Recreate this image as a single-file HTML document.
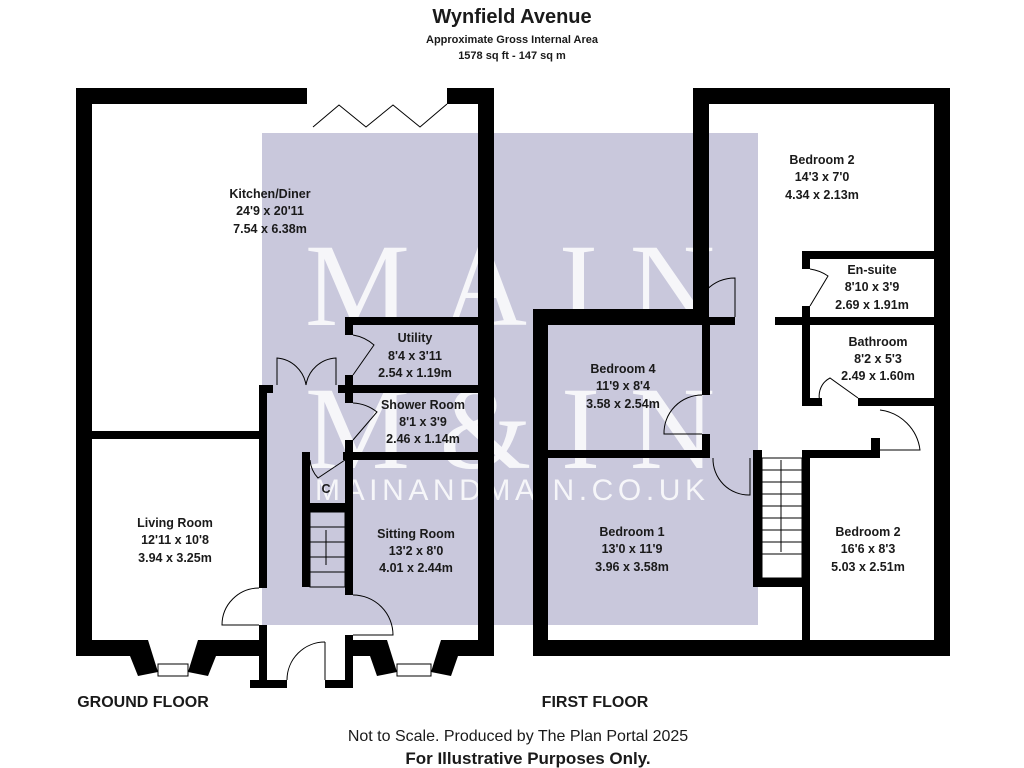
<!DOCTYPE html>
<html><head><meta charset="utf-8"><style>
html,body{margin:0;padding:0;background:#fff;}
svg{display:block;}
text{font-family:"Liberation Sans",Arial,sans-serif;font-weight:bold;fill:#1a1a1a;}
</style></head><body>
<svg width="1024" height="768" viewBox="0 0 1024 768" xmlns="http://www.w3.org/2000/svg">
<rect width="1024" height="768" fill="#fff"/>
<!-- watermark background -->
<rect x="262" y="133" width="496" height="492" fill="#c9c8dc"/>
<g font-family="Liberation Serif,serif" fill="#fff" opacity="0.85" style="font-weight:normal">
<text x="510" y="325" text-anchor="middle" font-size="118" style="font-family:'Liberation Serif',serif;font-weight:normal;fill:#fff" textLength="410">MAIN</text>
<text x="510" y="468" text-anchor="middle" font-size="118" style="font-family:'Liberation Serif',serif;font-weight:normal;fill:#fff" textLength="410">M&amp;IN</text>
<text x="510" y="500" text-anchor="middle" font-size="30" style="font-family:'Liberation Sans',sans-serif;font-weight:normal;fill:#fff" textLength="390">MAINANDMAIN.CO.UK</text>
</g>

<!-- Titles -->
<text x="512" y="23" text-anchor="middle" font-size="20">Wynfield Avenue</text>
<text x="512" y="43" text-anchor="middle" font-size="11">Approximate Gross Internal Area</text>
<text x="512" y="59" text-anchor="middle" font-size="11">1578 sq ft - 147 sq m</text>

<g fill="#000">
<!-- GROUND FLOOR -->
<rect x="78" y="88" width="229" height="16"/>
<rect x="447" y="88" width="47" height="16"/>
<rect x="76" y="88" width="16" height="568"/>
<rect x="478" y="88" width="16" height="568"/>
<rect x="76" y="640" width="58" height="16"/>
<rect x="212" y="640" width="55" height="16"/>
<rect x="92" y="431" width="175" height="8"/>
<rect x="259" y="385" width="8" height="203"/>
<rect x="259" y="385" width="14" height="8"/>
<rect x="259" y="625" width="8" height="63"/>
<rect x="250" y="680" width="37" height="8"/>
<rect x="325" y="680" width="28" height="8"/>
<rect x="345" y="635" width="8" height="53"/>
<rect x="345" y="640" width="28" height="16"/>
<rect x="455" y="640" width="39" height="16"/>
<rect x="345" y="317" width="147" height="8"/>
<rect x="345" y="317" width="8" height="18"/>
<rect x="345" y="375" width="8" height="28"/>
<rect x="338" y="385" width="142" height="8"/>
<rect x="345" y="440" width="8" height="155"/>
<rect x="343" y="452" width="137" height="8"/>
<rect x="302" y="452" width="8" height="135"/>
<rect x="302" y="503" width="51" height="9"/>
<!-- bay windows -->
<polygon points="130,656 134,640 148,640 158,672 138,676"/>
<polygon points="216,656 212,640 198,640 188,672 208,676"/>
<rect x="158" y="664" width="30" height="12" fill="#fff" stroke="#000" stroke-width="1"/>
<polygon points="370,656 373,640 387,640 397,672 377,676"/>
<polygon points="458,656 455,640 441,640 431,672 451,676"/>
<rect x="397" y="664" width="34" height="12" fill="#fff" stroke="#000" stroke-width="1"/>

<!-- FIRST FLOOR -->
<rect x="693" y="88" width="257" height="16"/>
<rect x="693" y="88" width="16" height="237"/>
<rect x="934" y="88" width="16" height="568"/>
<rect x="533" y="309" width="176" height="16"/>
<rect x="533" y="309" width="15" height="347"/>
<rect x="533" y="640" width="417" height="16"/>
<rect x="709" y="317" width="26" height="8"/>
<rect x="775" y="317" width="175" height="8"/>
<rect x="802" y="251" width="148" height="8"/>
<rect x="802" y="251" width="8" height="18"/>
<rect x="802" y="306" width="8" height="100"/>
<rect x="802" y="398" width="20" height="8"/>
<rect x="858" y="398" width="92" height="8"/>
<rect x="702" y="325" width="8" height="70"/>
<rect x="702" y="434" width="8" height="24"/>
<rect x="548" y="450" width="162" height="8"/>
<rect x="753" y="450" width="9" height="137"/>
<rect x="753" y="578" width="57" height="9"/>
<rect x="802" y="450" width="8" height="190"/>
<rect x="802" y="450" width="78" height="8"/>
<rect x="871" y="438" width="9" height="20"/>
</g>

<!-- doors, stairs -->
<g fill="none" stroke="#000" stroke-width="1">
<polyline points="313,127 339,105 366,127 393,105 420,127 447,104"/>
<path d="M277,385 L277,358 A32,32 0 0 1 306,385"/>
<path d="M336,385 L336,358 A32,32 0 0 0 306,385"/>
<path d="M353,335 A42,42 0 0 1 374,345 L353,375"/>
<path d="M353,403 A42,42 0 0 1 377,412 L353,440"/>
<path d="M310,460 A30,30 0 0 0 318,478 L345,460"/>
<path d="M259,588 A37,37 0 0 0 222,625 L259,625"/>
<path d="M353,595 A40,40 0 0 1 393,635 L353,635"/>
<path d="M325,642 A38,38 0 0 0 287,680"/>
<line x1="325" y1="642" x2="325" y2="680"/>
<rect x="310" y="512" width="35" height="75"/>
<line x1="310" y1="527" x2="345" y2="527"/><line x1="310" y1="542" x2="345" y2="542"/>
<line x1="310" y1="557" x2="345" y2="557"/><line x1="310" y1="572" x2="345" y2="572"/>
<line x1="326" y1="565" x2="326" y2="530"/>
<path d="M735,317 L735,278 A40,40 0 0 0 695,317"/>
<path d="M810,269 A42,42 0 0 1 828,276 L810,306"/>
<path d="M822,406 A20,20 0 0 1 830,378 L858,398"/>
<path d="M880,410 A46,46 0 0 1 920,450 L880,450"/>
<path d="M702,395 A38,38 0 0 0 664,434 L702,434"/>
<path d="M713,458 A36,36 0 0 0 750,495 L750,458"/>
<rect x="762" y="458" width="40" height="120"/>
<line x1="762" y1="470" x2="802" y2="470"/><line x1="762" y1="482" x2="802" y2="482"/>
<line x1="762" y1="494" x2="802" y2="494"/><line x1="762" y1="506" x2="802" y2="506"/>
<line x1="762" y1="518" x2="802" y2="518"/><line x1="762" y1="530" x2="802" y2="530"/>
<line x1="762" y1="542" x2="802" y2="542"/><line x1="762" y1="554" x2="802" y2="554"/>
<line x1="781" y1="460" x2="781" y2="552"/>
</g>

<!-- room labels -->
<g font-size="12.5" text-anchor="middle">
<text x="270" y="198">Kitchen/Diner</text><text x="270" y="215">24'9 x 20'11</text><text x="270" y="233">7.54 x 6.38m</text>
<text x="415" y="342">Utility</text><text x="415" y="360">8'4 x 3'11</text><text x="415" y="377">2.54 x 1.19m</text>
<text x="423" y="409">Shower Room</text><text x="423" y="426">8'1 x 3'9</text><text x="423" y="443">2.46 x 1.14m</text>
<text x="326" y="493">C</text>
<text x="175" y="527">Living Room</text><text x="175" y="544">12'11 x 10'8</text><text x="175" y="562">3.94 x 3.25m</text>
<text x="416" y="538">Sitting Room</text><text x="416" y="555">13'2 x 8'0</text><text x="416" y="572">4.01 x 2.44m</text>
<text x="822" y="164">Bedroom 2</text><text x="822" y="181">14'3 x 7'0</text><text x="822" y="199">4.34 x 2.13m</text>
<text x="872" y="274">En-suite</text><text x="872" y="291">8'10 x 3'9</text><text x="872" y="309">2.69 x 1.91m</text>
<text x="878" y="346">Bathroom</text><text x="878" y="363">8'2 x 5'3</text><text x="878" y="380">2.49 x 1.60m</text>
<text x="623" y="373">Bedroom 4</text><text x="623" y="390">11'9 x 8'4</text><text x="623" y="408">3.58 x 2.54m</text>
<text x="632" y="536">Bedroom 1</text><text x="632" y="553">13'0 x 11'9</text><text x="632" y="571">3.96 x 3.58m</text>
<text x="868" y="536">Bedroom 2</text><text x="868" y="553">16'6 x 8'3</text><text x="868" y="571">5.03 x 2.51m</text>
</g>
<text x="143" y="707" font-size="16" text-anchor="middle">GROUND FLOOR</text>
<text x="595" y="707" font-size="16" text-anchor="middle">FIRST FLOOR</text>
<text x="518" y="741" font-size="16" text-anchor="middle" style="font-weight:normal">Not to Scale. Produced by The Plan Portal 2025</text>
<text x="528" y="764" font-size="17" text-anchor="middle">For Illustrative Purposes Only.</text>
</svg>
</body></html>
